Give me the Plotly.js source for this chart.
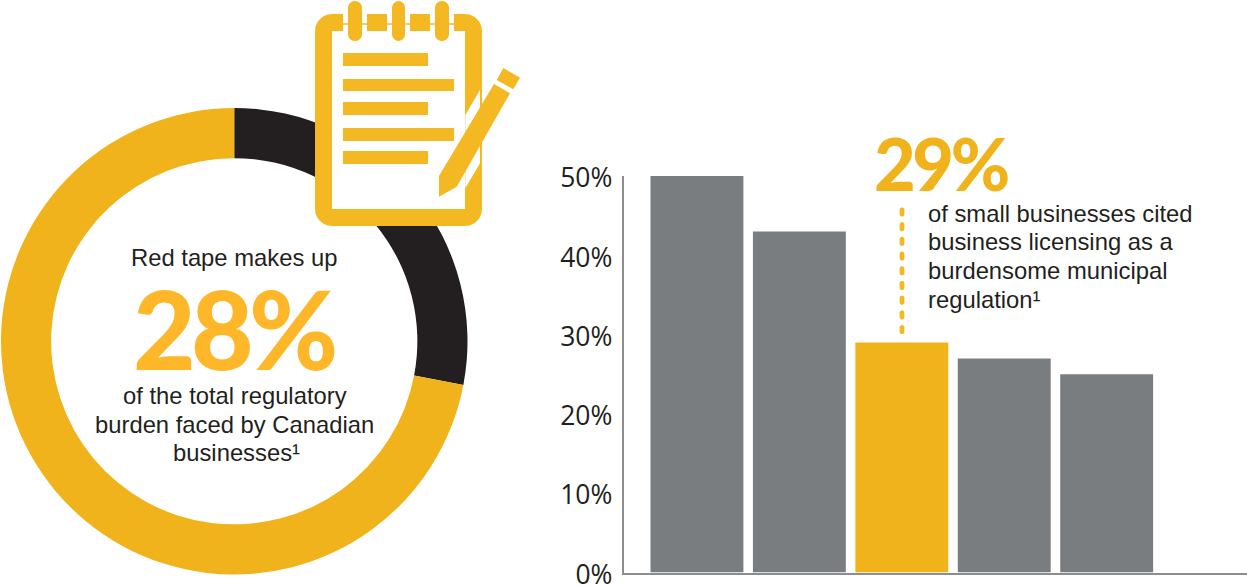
<!DOCTYPE html>
<html>
<head>
<meta charset="utf-8">
<script src="https://cdn.plot.ly/plotly-3.0.1.min.js"></script>
<style>
html,body{margin:0;padding:0;background:#fff;overflow:hidden}
#chart{width:1247px;height:585px}
</style>
</head>
<body>
<div id="chart"></div>
<script>
// Donut: share of the regulatory burden
const burdenLabels = ['Red tape', 'Other regulatory burden'];
const burdenValues = [28, 72];
const burdenColors = ['#231f20', '#f1b31c'];

// Bars: burdensome municipal regulations, ranked
const regulationRanks = [1, 2, 3, 4, 5];
const regulationValues = [50, 43, 29, 27, 25];
const barColors = ['#7a7d80', '#7a7d80', '#f1b31c', '#7a7d80', '#7a7d80'];
const yTicks = [0, 10, 20, 30, 40, 50];

const W = 1247, H = 585;
const INK = '#231f20', ICON = '#f4b822';
const px = x => x / W;
const py = y => 1 - y / H;

// Closed path through pixel points, expressed in paper coordinates
const poly = pts => 'M' + pts.map(p => px(p[0]).toFixed(5) + ',' + py(p[1]).toFixed(5)).join('L') + 'Z';

// Rectangle with rounded corners, approximated by short chords
function roundRect(x0, y0, x1, y1, r) {
  const pts = [];
  const corners = [[x1 - r, y0 + r, -90], [x1 - r, y1 - r, 0], [x0 + r, y1 - r, 90], [x0 + r, y0 + r, 180]];
  corners.forEach(c => {
    for (let a = 0; a <= 90; a += 15) {
      const t = (c[2] + a) * Math.PI / 180;
      pts.push([c[0] + r * Math.cos(t), c[1] + r * Math.sin(t)]);
    }
  });
  return poly(pts);
}

const fillShape = (path, color) => ({type: 'path', xref: 'paper', yref: 'paper', path, fillcolor: color, line: {width: 0}, layer: 'above'});
const rectShape = (x0, y0, x1, y1, color) => fillShape(poly([[x0, y0], [x1, y0], [x1, y1], [x0, y1]]), color);

// Notepad icon
const shapes = [
  fillShape(roundRect(315, 14, 482, 226, 17), ICON),
  rectShape(332, 31, 465, 209, '#ffffff'),
  // gaps in the binding along the top edge
  rectShape(343, 14, 367, 31, '#ffffff'),
  rectShape(387, 14, 410, 31, '#ffffff'),
  rectShape(430, 14, 454, 31, '#ffffff'),
  rectShape(343, 23.2, 454, 24.8, ICON)
];
[[348, 362], [392, 405], [435, 449]].forEach(r => shapes.push(fillShape(roundRect(r[0], 1, r[1], 41, 6.8), ICON)));
[[53, 66, 428], [79, 91, 454], [102, 115, 428], [128, 141, 454], [151, 164, 428]].forEach(l => shapes.push(rectShape(343, l[0], l[2], l[1], ICON)));
// pencil with a white clearance through the notepad border
shapes.push(fillShape(poly([[480, 90], [480, 163.3], [465.3, 188.3], [465.3, 115]]), '#ffffff'));
shapes.push(fillShape(poly([[494, 84], [510, 93.3], [456.7, 186.7], [439, 196.7], [439, 176]]), ICON));
shapes.push(fillShape(poly([[503.3, 68], [520, 77.7], [513.3, 89.3], [496.7, 80]]), ICON));

// Dotted leader above the highlighted bar
for (let y = 207.5; y < 327; y += 14.7) {
  shapes.push(fillShape(roundRect(899.6, y, 904.4, y + 9, 2.2), ICON));
}

const note = (text, x, y, anchor) => ({
  text, x: px(x), y: py(y), xref: 'paper', yref: 'paper',
  xanchor: anchor, yanchor: 'middle', showarrow: false,
  font: {family: 'Liberation Sans, Arial, sans-serif', size: 23.8, color: INK}
});
const big = (text, x, y, color, size, spacing) => ({
  text: '<span style="letter-spacing:' + spacing + 'px">' + text + '</span>',
  x: px(x), y: py(y), xref: 'paper', yref: 'paper',
  xanchor: 'center', yanchor: 'middle', showarrow: false,
  font: {family: 'Lato, sans-serif', size, color, weight: 900}
});

const annotations = [
  note('Red tape makes up', 234, 257, 'center'),
  big('28%', 233.5, 328, '#fdb729', 108, -4.7),
  note('of the total regulatory', 234.5, 395, 'center'),
  note('burden faced by Canadian', 234.5, 424, 'center'),
  note('businesses¹', 236, 452, 'center'),
  big('29%', 940.5, 163, '#f1b31c', 72, -3.4),
  note('of small businesses cited', 926, 213.5, 'left'),
  note('business licensing as a', 926, 242, 'left'),
  note('burdensome municipal', 926, 270.5, 'left'),
  note('regulation¹', 926, 299, 'left')
];

const traces = [
  {
    type: 'pie', labels: burdenLabels, values: burdenValues, sort: false, direction: 'clockwise', rotation: 0,
    hole: 0.785, textinfo: 'none', hoverinfo: 'label+percent',
    marker: {colors: burdenColors, line: {width: 0}},
    domain: {x: [px(1), px(467.5)], y: [py(574.5), py(108)]}
  },
  {
    type: 'bar', x: regulationRanks, y: regulationValues, width: 0.907,
    marker: {color: barColors, line: {width: 0}}, hovertemplate: '%{y}%<extra></extra>'
  }
];

const layout = {
  width: W, height: H, margin: {l: 0, r: 0, t: 0, b: 0},
  paper_bgcolor: '#ffffff', plot_bgcolor: '#ffffff', showlegend: false,
  xaxis: {
    domain: [px(623.5), 1], range: [0.283, 6.37], anchor: 'y', showgrid: false, zeroline: false,
    showticklabels: false, ticks: '', showline: true, linecolor: '#8b8d8f', linewidth: 1.5
  },
  yaxis: {
    domain: [py(572.5), py(176)], range: [0, 50], anchor: 'x', showgrid: false, zeroline: false,
    tickvals: yTicks, ticktext: yTicks.map(v => v + '%'), ticks: '', ticklabelstandoff: 4,
    ticklabeloverflow: 'allow', ticklabelshift: 2,
    tickfont: {family: 'Open Sans, sans-serif', size: 26.5, color: INK},
    showline: true, linecolor: '#8b8d8f', linewidth: 1.5
  },
  shapes, annotations
};

Plotly.newPlot('chart', traces, layout, {displayModeBar: false, responsive: false});
</script>
</body>
</html>
